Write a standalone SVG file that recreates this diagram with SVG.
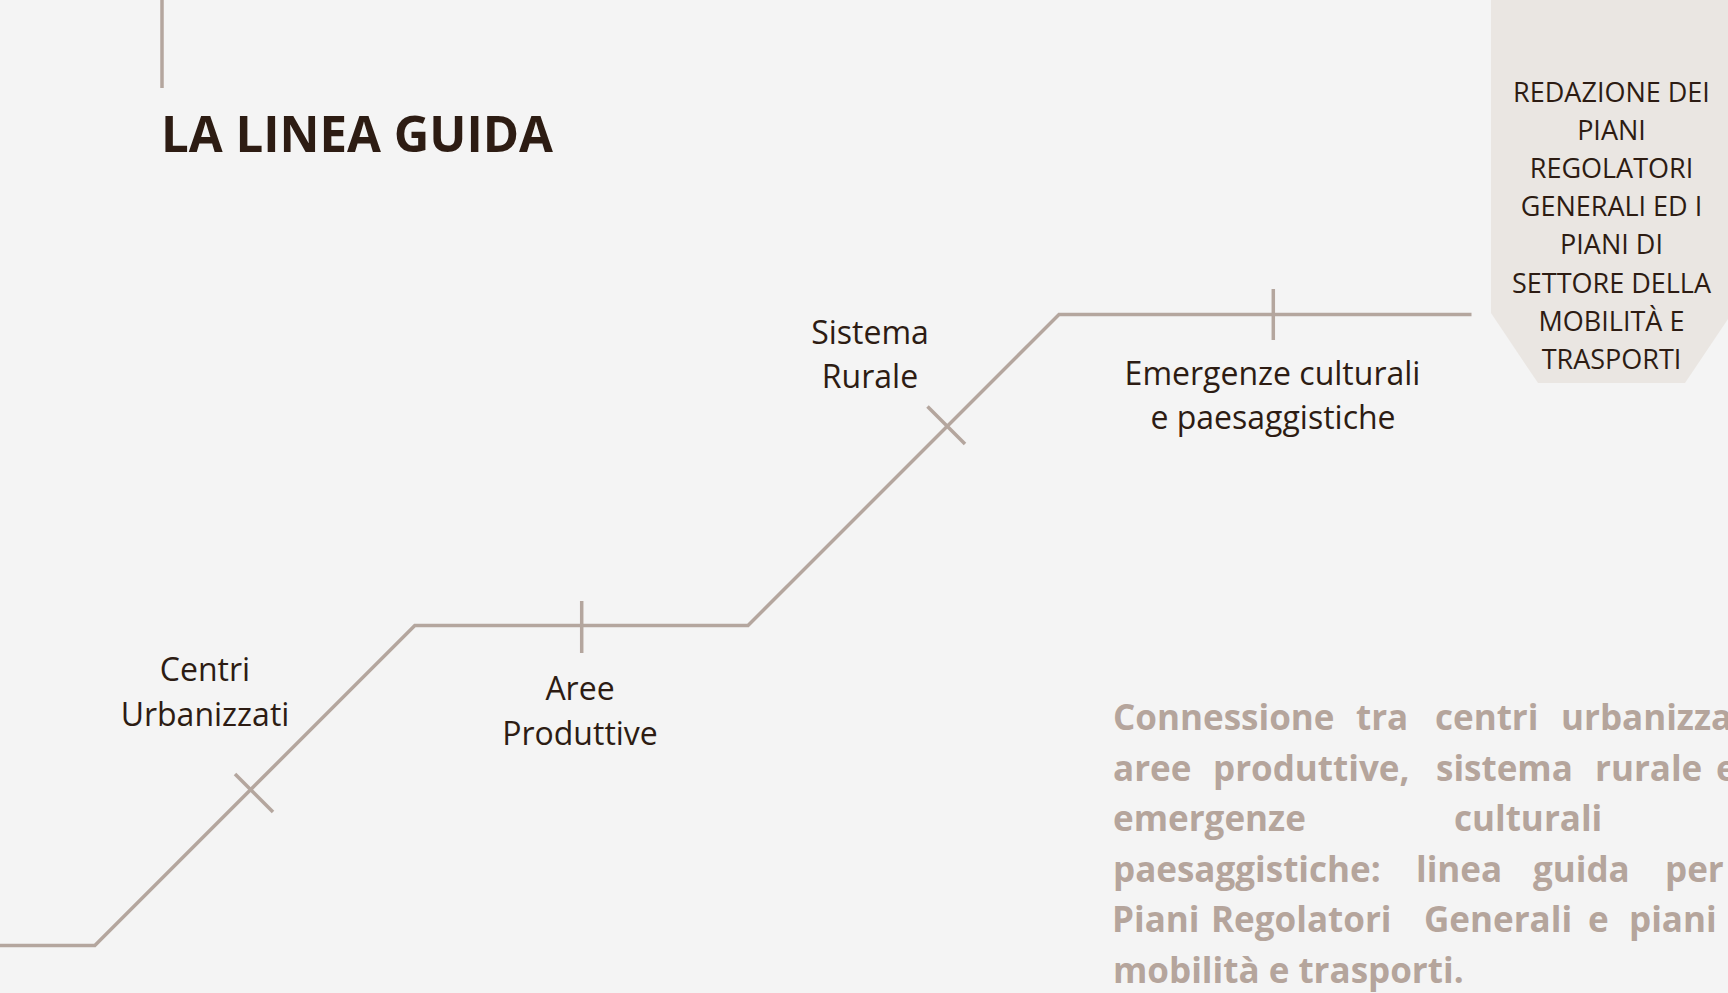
<svg xmlns="http://www.w3.org/2000/svg" width="1728" height="993" viewBox="0 0 1728 993">
<style>
.ln{stroke:#b4a69e;stroke-width:3.5;fill:none;stroke-linejoin:miter}
.lbl{font-family:"Open Sans","Noto Sans",sans-serif;font-size:32px;fill:#2d1c13;text-anchor:middle}
.box{font-family:"Open Sans","Noto Sans",sans-serif;font-size:27px;fill:#2d1c13;text-anchor:middle}
.par{font-family:"Open Sans","Noto Sans",sans-serif;font-size:35px;font-weight:700;fill:#b5a59c}
</style>
<rect width="1728" height="993" fill="#f4f4f4"/>
<line class="ln" x1="162" y1="0" x2="162" y2="88"/>
<text x="161" y="152" font-family="'Open Sans','Noto Sans',sans-serif" font-size="50" font-weight="700" fill="#2d1c13" textLength="392" lengthAdjust="spacingAndGlyphs">LA LINEA GUIDA</text>
<g id="connectors">
<polyline class="ln" points="0,945.5 94.8,945.5 414.8,625.5 748,625.5 1059,314.5 1471.5,314.5"/>
</g>
<g id="node-centri">
<line class="ln" x1="235" y1="774" x2="273" y2="812"/>
<text class="lbl" x="205" y="681">Centri</text>
<text class="lbl" x="205" y="726">Urbanizzati</text>
</g>
<g id="node-aree">
<line class="ln" x1="581.7" y1="601" x2="581.7" y2="653"/>
<text class="lbl" x="580" y="700">Aree</text>
<text class="lbl" x="580" y="745">Produttive</text>
</g>
<g id="node-sistema">
<line class="ln" x1="927.5" y1="406.5" x2="965" y2="444"/>
<text class="lbl" x="870" y="344">Sistema</text>
<text class="lbl" x="870" y="388">Rurale</text>
</g>
<g id="node-emergenze">
<line class="ln" x1="1273.3" y1="289" x2="1273.3" y2="340"/>
<text class="lbl" x="1272.5" y="385">Emergenze culturali</text>
<text class="lbl" x="1273" y="429">e paesaggistiche</text>
</g>
<g id="node-redazione">
<polygon points="1491,0 1732,0 1732,313 1685,383 1538,383 1491,313" fill="#eae6e2"/>
<text class="box" x="1611.5" y="101.5">REDAZIONE DEI</text>
<text class="box" x="1611.5" y="139.7">PIANI</text>
<text class="box" x="1611.5" y="177.9">REGOLATORI</text>
<text class="box" x="1611.5" y="216.1">GENERALI ED I</text>
<text class="box" x="1611.5" y="254.3">PIANI DI</text>
<text class="box" x="1611.5" y="292.5">SETTORE DELLA</text>
<text class="box" x="1611.5" y="330.7">MOBILITÀ E</text>
<text class="box" x="1611.5" y="368.9">TRASPORTI</text>
</g>
<g id="paragraph" class="par">
<text y="730"><tspan x="1113">Connessione</tspan><tspan x="1356">tra</tspan><tspan x="1435">centri</tspan><tspan x="1561">urbanizzati,</tspan></text>
<text y="780.6"><tspan x="1113">aree</tspan><tspan x="1213">produttive,</tspan><tspan x="1436">sistema</tspan><tspan x="1595">rurale</tspan><tspan x="1716">e</tspan></text>
<text y="831.2"><tspan x="1113">emergenze</tspan><tspan x="1454">culturali</tspan></text>
<text y="881.8"><tspan x="1113">paesaggistiche:</tspan><tspan x="1416">linea</tspan><tspan x="1533">guida</tspan><tspan x="1665">per</tspan></text>
<text y="932.4"><tspan x="1112">Piani</tspan><tspan x="1211">Regolatori</tspan><tspan x="1424">Generali</tspan><tspan x="1588">e</tspan><tspan x="1629">piani</tspan></text>
<text x="1113" y="983">mobilità e trasporti.</text>
</g>
</svg>
